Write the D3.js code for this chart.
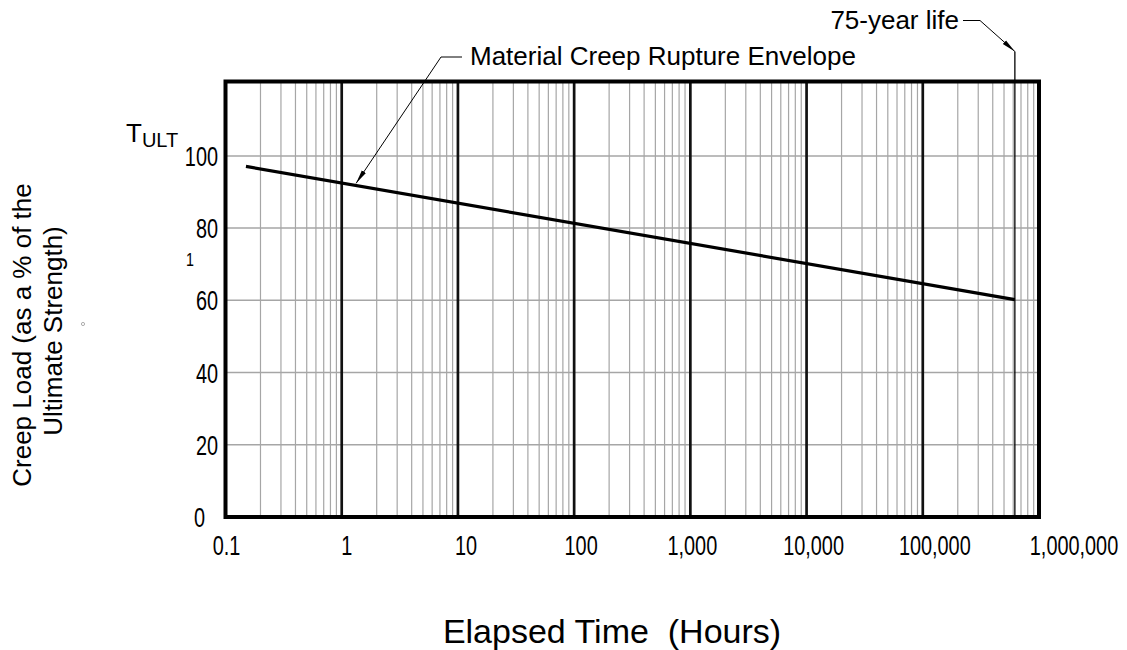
<!DOCTYPE html>
<html>
<head>
<meta charset="utf-8">
<script src="https://cdn.jsdelivr.net/npm/d3@7"></script>
<style>
  html, body { margin: 0; padding: 0; background: #fff; }
  svg { display: block; }
  text { font-family: "Liberation Sans", Arial, Helvetica, sans-serif; fill: #000; }
</style>
</head>
<body>
<svg id="chart" width="1127" height="650"></svg>
<script>
// ---- data ----
const xTickValues = [0.1, 1, 10, 100, 1000, 10000, 100000, 1000000];
const xTickLabels = ["0.1", "1", "10", "100", "1,000", "10,000", "100,000", "1,000,000"];
const yTickValues = [0, 20, 40, 60, 80, 100];
const yTickLabels = ["0", "20", "40", "60", "80", "100"];
const envelopeHours = [0.15, 620000];
const envelopeLoad = [97.1, 60.2];
const designLifeHours = 620000;
const envelopeLabel = "Material Creep Rupture Envelope";
const lifeLabel = "75-year life";
const envelopeArrowAt = [1.33, 92.4];

// ---- layout ----
const svg = d3.select("#chart");
const x = d3.scaleLog().domain([0.1, 1e6]).range([225.5, 1039]);
const y = d3.scaleLinear().domain([0, 120.6]).range([517, 81.5]);
const xLabelNudge = [1, 5, 8, 7, 2, 7, 12, 35];
const narrow = 0.71;

const defs = svg.append("defs");
defs.append("marker").attr("id", "arr").attr("viewBox", "0 0 14 6")
  .attr("refX", 14).attr("refY", 3).attr("markerWidth", 14).attr("markerHeight", 6)
  .attr("markerUnits", "userSpaceOnUse").attr("orient", "auto")
  .append("path").attr("d", "M0,0.6 L14,3 L0,5.4 Z").attr("fill", "#000");

const g = svg.append("g");

// minor vertical gridlines
const minor = [];
for (let e = -1; e < 6; e++) for (let m = 2; m <= 9; m++) minor.push(m * Math.pow(10, e));
g.selectAll(".minor").data(minor).enter().append("line")
  .attr("x1", d => x(d)).attr("x2", d => x(d))
  .attr("y1", y(0)).attr("y2", y.range()[1])
  .attr("stroke", "#a6a6a6").attr("stroke-width", 1.2);

// horizontal gridlines
g.selectAll(".hgrid").data(yTickValues.filter(v => v > 0)).enter().append("line")
  .attr("x1", x.range()[0]).attr("x2", x.range()[1])
  .attr("y1", d => y(d)).attr("y2", d => y(d))
  .attr("stroke", "#a6a6a6").attr("stroke-width", 1.5);

// major decade lines
g.selectAll(".major").data(xTickValues.slice(1, -1)).enter().append("line")
  .attr("x1", d => x(d)).attr("x2", d => x(d))
  .attr("y1", y(0)).attr("y2", y.range()[1])
  .attr("stroke", "#111").attr("stroke-width", 2.7);

// design-life line
g.append("line")
  .attr("x1", x(designLifeHours)).attr("x2", x(designLifeHours))
  .attr("y1", y(0)).attr("y2", 51.5)
  .attr("stroke", "#000").attr("stroke-width", 1.3);

// frame
g.append("rect")
  .attr("x", x.range()[0]).attr("y", y.range()[1])
  .attr("width", x.range()[1] - x.range()[0]).attr("height", y(0) - y.range()[1])
  .attr("fill", "none").attr("stroke", "#000").attr("stroke-width", 4);

// envelope line
const line = d3.line().x(d => x(d[0])).y(d => y(d[1]));
g.append("path")
  .datum(envelopeHours.map((h, i) => [h, envelopeLoad[i]]))
  .attr("d", line).attr("fill", "none").attr("stroke", "#000").attr("stroke-width", 3.2);

// x tick labels (condensed)
g.selectAll(".xl").data(xTickValues).enter().append("text")
  .attr("transform", (d, i) => `translate(${x(d) + xLabelNudge[i]},555) scale(${narrow},1)`)
  .attr("text-anchor", "middle").attr("font-size", 28)
  .text((d, i) => xTickLabels[i]);

// y tick labels (condensed)
g.selectAll(".yl").data(yTickValues).enter().append("text")
  .attr("transform", d => `translate(${d === 0 ? 205 : 218},${y(d) + 10}) scale(${narrow},1)`)
  .attr("text-anchor", "end").attr("font-size", 28)
  .text((d, i) => yTickLabels[i]);

// T_ULT
const t = g.append("text").attr("x", 126).attr("y", 142).attr("font-size", 26);
t.append("tspan").text("T");
t.append("tspan").attr("font-size", 20).attr("dy", 5).text("ULT");

// stray marks
g.append("text").attr("transform", "translate(190,266) scale(0.75,1)")
  .attr("text-anchor", "middle").attr("font-size", 19).text("1");
g.append("circle").attr("cx", 83).attr("cy", 324).attr("r", 1.6)
  .attr("fill", "none").attr("stroke", "#999").attr("stroke-width", 0.8);

// axis titles
g.append("text").attr("transform", "translate(31,335) rotate(-90)")
  .attr("text-anchor", "middle").attr("font-size", 26).text("Creep Load (as a % of the");
g.append("text").attr("transform", "translate(62,331) rotate(-90)")
  .attr("text-anchor", "middle").attr("font-size", 26).text("Ultimate Strength)");
g.append("text").attr("x", 612).attr("y", 643)
  .attr("text-anchor", "middle").attr("font-size", 34)
  .style("white-space", "pre").text("Elapsed Time  (Hours)");

// callouts
g.append("text").attr("x", 470).attr("y", 65).attr("font-size", 26).text(envelopeLabel);
g.append("path").attr("d", `M462,57 L441,57 L${x(envelopeArrowAt[0])},${y(envelopeArrowAt[1])}`)
  .attr("fill", "none").attr("stroke", "#000").attr("stroke-width", 1).attr("marker-end", "url(#arr)");

g.append("text").attr("x", 959).attr("y", 29).attr("text-anchor", "end").attr("font-size", 26).text(lifeLabel);
g.append("path").attr("d", `M963,20.5 L980,20.5 L${x(designLifeHours)},51.5`)
  .attr("fill", "none").attr("stroke", "#000").attr("stroke-width", 1).attr("marker-end", "url(#arr)");
</script>
</body>
</html>
